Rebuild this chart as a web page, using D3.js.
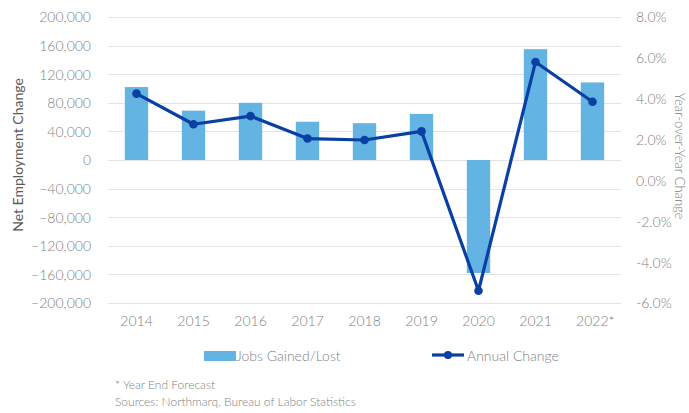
<!DOCTYPE html>
<html>
<head>
<meta charset="utf-8">
<script src="https://cdn.jsdelivr.net/npm/d3@7"></script>
<style>
  body { margin: 0; background: #fff; }
  text { font-family: Lato, "Open Sans", sans-serif; font-weight: 300; fill: #7f7f7f; }
</style>
</head>
<body>
<div id="container"></div>
<script>
//Chart data
var years = ["2014", "2015", "2016", "2017", "2018", "2019", "2020", "2021", "2022*"];
var jobs = [102000, 69000, 80000, 53500, 51500, 64500, -158000, 155000, 108500];
var annualChange = [4.25, 2.75, 3.15, 2.05, 1.98, 2.4, -5.4, 5.8, 3.85];
var leftTicks = [-200000, -160000, -120000, -80000, -40000, 0, 40000, 80000, 120000, 160000, 200000];
var rightTicks = [-6, -4, -2, 0, 2, 4, 6, 8];

var width = 689, height = 413;
var plot = { left: 108, right: 621, top: 17, bottom: 303 };

var svg = d3.select("#container").append("svg")
    .attr("width", width)
    .attr("height", height);

//Scales
var x = d3.scaleBand().domain(years).range([plot.left, plot.right]).paddingInner(0.59).paddingOuter(0.295);
var yLeft = d3.scaleLinear().domain([-200000, 200000]).range([plot.bottom, plot.top]);
var yRight = d3.scaleLinear().domain([-6, 8]).range([plot.bottom, plot.top]);

//Gridlines
svg.append("g")
    .selectAll("line")
    .data(leftTicks)
    .enter().append("line")
    .attr("x1", plot.left)
    .attr("x2", plot.right)
    .attr("y1", function (d) { return Math.round(yLeft(d)) + 0.5; })
    .attr("y2", function (d) { return Math.round(yLeft(d)) + 0.5; })
    .attr("stroke", "#e3e3e3")
    .attr("stroke-width", 1.2);

//Left axis
var leftAxis = svg.append("g")
    .attr("transform", "translate(" + (plot.left - 17) + ",0)")
    .call(d3.axisLeft(yLeft).tickValues(leftTicks).tickSize(0).tickPadding(0).tickFormat(d3.format(",")));
leftAxis.select(".domain").remove();
leftAxis.selectAll("text").style("font-size", "14px").attr("dy", "0.35em")
    .style("font-family", "Lato, sans-serif").style("fill", "#808080");

//Right axis
var rightAxis = svg.append("g")
    .attr("transform", "translate(636,0)")
    .call(d3.axisRight(yRight).tickValues(rightTicks).tickSize(0).tickPadding(0)
        .tickFormat(function (d) { return d.toFixed(1) + "%"; }));
rightAxis.select(".domain").remove();
rightAxis.selectAll("text").style("font-size", "14px").attr("dy", "0.35em")
    .style("font-family", "Lato, sans-serif").style("fill", "#808080");

//Bottom labels
var bottomAxis = svg.append("g")
    .attr("transform", "translate(0," + (plot.bottom + 10) + ")")
    .call(d3.axisBottom(x).tickSize(0).tickPadding(0));
bottomAxis.select(".domain").remove();
bottomAxis.selectAll("text").style("font-size", "14px").attr("dy", "0.95em")
    .style("font-family", "Lato, sans-serif").style("fill", "#808080")
    .attr("dx", function (d) { return d.indexOf("*") >= 0 ? "0.2em" : 0; });

//Bars
svg.append("g")
    .selectAll("rect")
    .data(jobs)
    .enter().append("rect")
    .attr("x", function (d, i) { return x(years[i]); })
    .attr("width", x.bandwidth())
    .attr("y", function (d) { return yLeft(Math.max(0, d)); })
    .attr("height", function (d) { return Math.abs(yLeft(d) - yLeft(0)); })
    .attr("fill", "#63b3e3");

//Line
var line = d3.line()
    .x(function (d, i) { return x(years[i]) + x.bandwidth() / 2; })
    .y(function (d) { return yRight(d); });

svg.append("path")
    .datum(annualChange)
    .attr("d", line)
    .attr("fill", "none")
    .attr("stroke", "#0a3fa3")
    .attr("stroke-width", 3.2)
    .attr("stroke-linejoin", "round");

svg.append("g")
    .selectAll("circle")
    .data(annualChange)
    .enter().append("circle")
    .attr("cx", function (d, i) { return x(years[i]) + x.bandwidth() / 2; })
    .attr("cy", function (d) { return yRight(d); })
    .attr("r", 4.3)
    .attr("fill", "#0a3fa3");

//Axis titles
svg.append("text")
    .attr("transform", "translate(23,155) rotate(-90)")
    .attr("text-anchor", "middle")
    .style("font-size", "14px")
    .style("fill", "#595959")
    .style("font-weight", "400")
    .text("Net Employment Change");

svg.append("text")
    .attr("transform", "translate(675,156) rotate(90)")
    .attr("text-anchor", "middle")
    .style("font-size", "13px")
    .style("fill", "#808080")
    .text("Year-over-Year Change");

//Legend
svg.append("rect")
    .attr("x", 204).attr("y", 351)
    .attr("width", 32).attr("height", 10)
    .attr("fill", "#63b3e3");
svg.append("text")
    .attr("x", 236).attr("y", 360.5)
    .style("font-size", "14px")
    .text("Jobs Gained/Lost");

svg.append("line")
    .attr("x1", 432).attr("x2", 464)
    .attr("y1", 355).attr("y2", 355)
    .attr("stroke", "#0a3fa3").attr("stroke-width", 3.2);
svg.append("circle")
    .attr("cx", 448).attr("cy", 355).attr("r", 4)
    .attr("fill", "#0a3fa3");
svg.append("text")
    .attr("x", 467).attr("y", 360.5)
    .style("font-size", "14px")
    .text("Annual Change");

//Footnotes
svg.append("text")
    .attr("x", 115).attr("y", 389)
    .style("font-size", "12px")
    .text("* Year End Forecast");
svg.append("text")
    .attr("x", 115).attr("y", 406)
    .style("font-size", "12px")
    .text("Sources: Northmarq, Bureau of Labor Statistics");
</script>
</body>
</html>
